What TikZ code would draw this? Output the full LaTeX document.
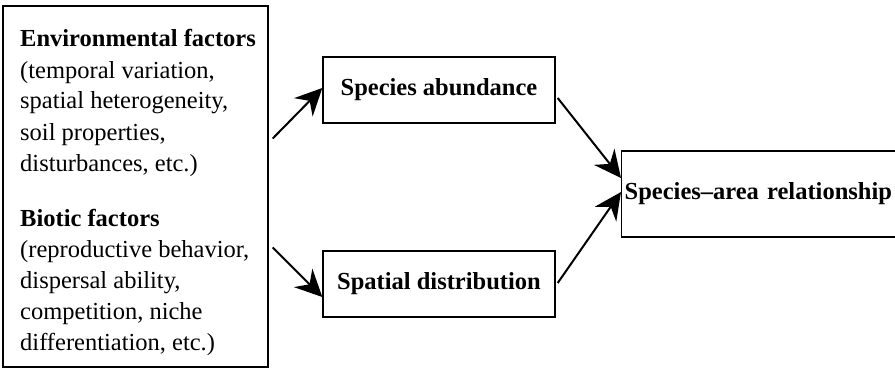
\documentclass[tikz,border=0pt]{standalone}
\usepackage{fontspec}
\setmainfont{Liberation Serif}
\usetikzlibrary{arrows.meta,calc}
\begin{document}
\begin{tikzpicture}[x=1pt,y=-1pt,
  box/.style={draw=black, line width=1.4pt, rectangle, inner sep=0pt, font=\fontsize{24.5}{31}\selectfont\bfseries},
  line/.style={anchor=base west, inner sep=0pt, font=\fontsize{24.5}{31}\selectfont},
  head/.style={anchor=base west, inner sep=0pt, font=\fontsize{24.5}{31}\selectfont\bfseries},
  conn/.style={line width=2pt, -{Stealth[length=27pt,width=26pt,inset=9pt]}}]
\useasboundingbox (0,0) rectangle (895,369);
\clip (0,0) rectangle (895,369);
\fill[white] (0,0) rectangle (895,369);
% left box
\node[box, minimum width=265pt, minimum height=361pt] (left) at (135.5,186.5) {};
\node[head] (e0) at (20,47) {Environmental factors};
\node[line] (e1) at (20,78) {(temporal variation,};
\node[line] (e2) at (20,109) {spatial heterogeneity,};
\node[line] (e3) at (20,140) {soil properties,};
\node[line] (e4) at (20,171) {disturbances, etc.)};
\node[head] (b0) at (20,226) {Biotic factors};
\node[line] (b1) at (20,257) {(reproductive behavior,};
\node[line] (b2) at (20,288) {dispersal ability,};
\node[line] (b3) at (20,319) {competition, niche};
\node[line] (b4) at (20,350) {differentiation, etc.)};
% middle boxes
\node[box, minimum width=232pt, minimum height=66pt] (abund) at (439,90) {Species abundance};
\node[box, minimum width=232pt, minimum height=66pt] (spat) at (439,284) {Spatial distribution};
% right box
\node[box, anchor=west, minimum height=86pt, text width=290pt, inner xsep=3pt, align=left] (sar) at (621,194) {Species--area relationship};
% connectors
\draw[conn] ($(left.east)+(4,-48)$) -- ($(abund.west)+(0,-2)$);
\draw[conn] ($(left.east)+(4,61)$) -- ($(spat.west)+(0,13)$);
\draw[conn] ($(abund.east)+(2,8)$) -- ($(sar.west)+(0,-16)$);
\draw[conn] ($(spat.east)+(2,-1)$) -- ($(sar.west)+(0,-2)$);
\end{tikzpicture}
\end{document}
